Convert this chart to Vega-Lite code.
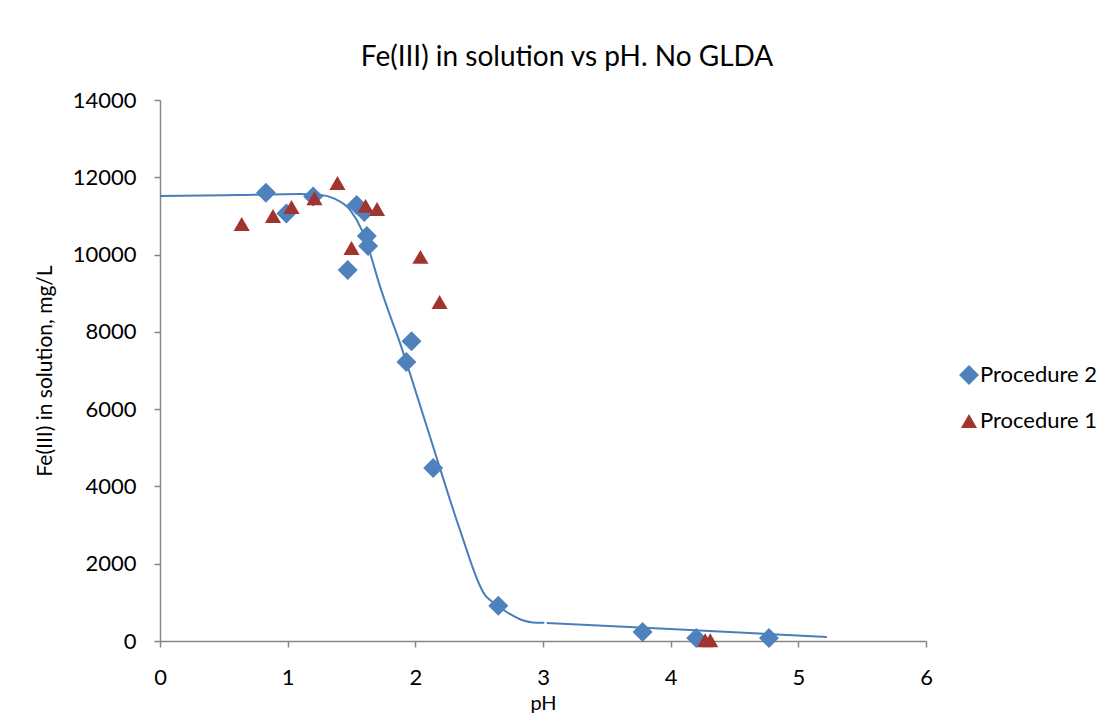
{
  "$schema": "https://vega.github.io/schema/vega-lite/v6.json",
  "width": 766,
  "height": 541,
  "autosize": {"type": "none"},
  "padding": {"left": 160, "top": 100, "right": 188, "bottom": 78},
  "background": "white",
  "title": {
    "text": "Fe(III) in solution vs pH. No GLDA",
    "font": "Lato",
    "fontSize": 28,
    "fontWeight": "normal",
    "color": "black",
    "anchor": "middle",
    "dx": 24,
    "offset": 17
  },
  "config": {
    "view": {"stroke": null},
    "axis": {
      "domainColor": "#868686",
      "domainWidth": 1.5,
      "tickColor": "#868686",
      "tickWidth": 1.5,
      "tickSize": 6,
      "grid": false,
      "labelFlush": false,
      "labelFont": "Lato",
      "labelFontSize": 22,
      "labelColor": "black",
      "titleFont": "Lato",
      "titleFontWeight": "normal",
      "titleColor": "black"
    },
    "legend": {
      "labelFont": "Lato",
      "labelFontSize": 22,
      "labelColor": "black"
    }
  },
  "datasets": {
    "measured": [
      {"pH": 0.83, "fe": 11600, "procedure": "Procedure 2"},
      {"pH": 0.99, "fe": 11060, "procedure": "Procedure 2"},
      {"pH": 1.2, "fe": 11500, "procedure": "Procedure 2"},
      {"pH": 1.47, "fe": 9600, "procedure": "Procedure 2"},
      {"pH": 1.54, "fe": 11280, "procedure": "Procedure 2"},
      {"pH": 1.6, "fe": 11100, "procedure": "Procedure 2"},
      {"pH": 1.62, "fe": 10480, "procedure": "Procedure 2"},
      {"pH": 1.63, "fe": 10220, "procedure": "Procedure 2"},
      {"pH": 1.97, "fe": 7760, "procedure": "Procedure 2"},
      {"pH": 1.93, "fe": 7220, "procedure": "Procedure 2"},
      {"pH": 2.14, "fe": 4480, "procedure": "Procedure 2"},
      {"pH": 2.65, "fe": 910, "procedure": "Procedure 2"},
      {"pH": 3.78, "fe": 230, "procedure": "Procedure 2"},
      {"pH": 4.2, "fe": 80, "procedure": "Procedure 2"},
      {"pH": 4.77, "fe": 80, "procedure": "Procedure 2"},
      {"pH": 0.64, "fe": 10790, "procedure": "Procedure 1"},
      {"pH": 0.885, "fe": 11000, "procedure": "Procedure 1"},
      {"pH": 1.03, "fe": 11230, "procedure": "Procedure 1"},
      {"pH": 1.21, "fe": 11460, "procedure": "Procedure 1"},
      {"pH": 1.39, "fe": 11850, "procedure": "Procedure 1"},
      {"pH": 1.5, "fe": 10170, "procedure": "Procedure 1"},
      {"pH": 1.61, "fe": 11260, "procedure": "Procedure 1"},
      {"pH": 1.7, "fe": 11180, "procedure": "Procedure 1"},
      {"pH": 2.04, "fe": 9940, "procedure": "Procedure 1"},
      {"pH": 2.19, "fe": 8770, "procedure": "Procedure 1"},
      {"pH": 4.27, "fe": 20, "procedure": "Procedure 1"},
      {"pH": 4.31, "fe": 20, "procedure": "Procedure 1"}
    ],
    "fit": [
      {"pH": 0, "fe": 11516, "seg": "a"},
      {"pH": 0.6, "fe": 11540, "seg": "a"},
      {"pH": 1.1, "fe": 11565, "seg": "a"},
      {"pH": 1.25, "fe": 11545, "seg": "a"},
      {"pH": 1.37, "fe": 11440, "seg": "a"},
      {"pH": 1.49, "fe": 11150, "seg": "a"},
      {"pH": 1.58, "fe": 10640, "seg": "a"},
      {"pH": 1.645, "fe": 10040, "seg": "a"},
      {"pH": 1.72, "fe": 9210, "seg": "a"},
      {"pH": 1.8, "fe": 8440, "seg": "a"},
      {"pH": 1.88, "fe": 7710, "seg": "a"},
      {"pH": 2.036, "fe": 6110, "seg": "a"},
      {"pH": 2.19, "fe": 4500, "seg": "a"},
      {"pH": 2.35, "fe": 2870, "seg": "a"},
      {"pH": 2.546, "fe": 1190, "seg": "a"},
      {"pH": 2.585, "fe": 1060, "seg": "a"},
      {"pH": 2.647, "fe": 906, "seg": "a"},
      {"pH": 2.74, "fe": 700, "seg": "a"},
      {"pH": 2.835, "fe": 543, "seg": "a"},
      {"pH": 2.92, "fe": 480, "seg": "a"},
      {"pH": 3.01, "fe": 470, "seg": "a"},
      {"pH": 3.03, "fe": 466, "seg": "b"},
      {"pH": 3.995, "fe": 308, "seg": "b"},
      {"pH": 5.224, "fe": 104, "seg": "b"}
    ]
  },
  "layer": [
    {
      "data": {"name": "fit"},
      "mark": {"type": "line", "color": "#4A7EBB", "strokeWidth": 2, "interpolate": "monotone"},
      "encoding": {
        "x": {"field": "pH", "type": "quantitative"},
        "y": {"field": "fe", "type": "quantitative"},
        "detail": {"field": "seg"}
      }
    },
    {
      "data": {"name": "measured"},
      "mark": {"type": "point", "filled": true, "opacity": 1, "strokeWidth": 0},
      "encoding": {
        "x": {
          "field": "pH",
          "type": "quantitative",
          "scale": {"domain": [0, 6], "nice": false, "zero": false},
          "axis": {
            "values": [0, 1, 2, 3, 4, 5, 6],
            "format": "d",
            "title": "pH",
            "titleFontSize": 20,
            "labelPadding": 20,
            "titlePadding": 5
          }
        },
        "y": {
          "field": "fe",
          "type": "quantitative",
          "scale": {"domain": [0, 14000], "nice": false},
          "axis": {
            "values": [0, 2000, 4000, 6000, 8000, 10000, 12000, 14000],
            "title": "Fe(III) in solution, mg/L",
            "titleFontSize": 21,
            "labelPadding": 18,
            "titlePadding": 17,
            "format": "d"
          }
        },
        "color": {
          "field": "procedure",
          "type": "nominal",
          "scale": {"domain": ["Procedure 2", "Procedure 1"], "range": ["#4F81BD", "#A0352F"]},
          "legend": {
            "title": null,
            "orient": "none",
            "legendX": 798,
            "legendY": 264,
            "symbolSize": 210,
            "rowPadding": 24,
            "labelOffset": 0
          }
        },
        "shape": {
          "field": "procedure",
          "type": "nominal",
          "scale": {"domain": ["Procedure 2", "Procedure 1"], "range": ["diamond", "triangle-up"]}
        },
        "size": {
          "field": "procedure",
          "type": "nominal",
          "scale": {"domain": ["Procedure 2", "Procedure 1"], "range": [400, 260]},
          "legend": null
        }
      }
    }
  ]
}
